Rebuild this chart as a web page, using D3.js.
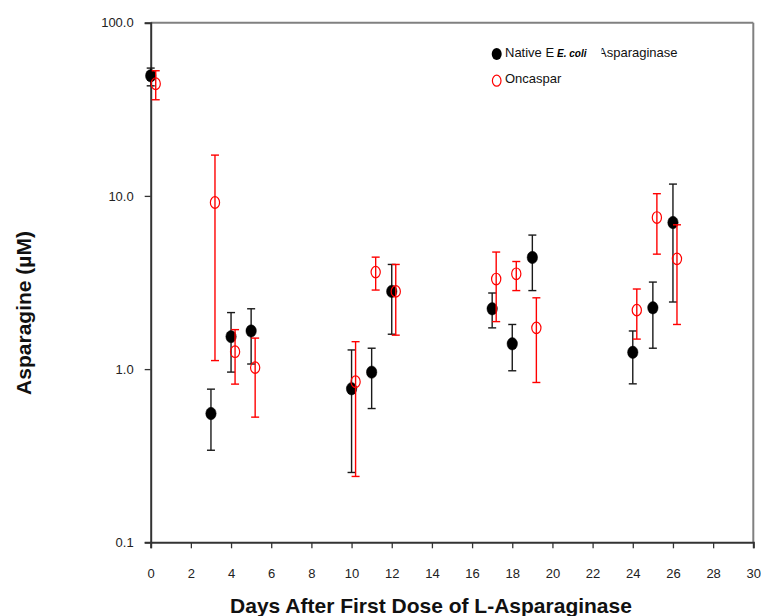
<!DOCTYPE html>
<html>
<head>
<meta charset="utf-8">
<script src="https://cdn.jsdelivr.net/npm/d3@7"></script>
<style>
  html, body { margin: 0; padding: 0; background: #fff; }
  svg { display: block; font-family: Arial, "Liberation Sans", sans-serif; }
</style>
</head>
<body>
<svg id="chart" width="761" height="616"></svg>
<script>
// Native E. coli Asparaginase
const nativeDays  = [0, 3, 4, 5, 10, 11, 12, 17, 18, 19, 24, 25, 26];
const nativeMean  = [49.4, 0.554, 1.54, 1.66, 0.77, 0.96, 2.81, 2.23, 1.40, 4.41, 1.25, 2.26, 7.02];
const nativeUpper = [54.7, 0.766, 2.12, 2.23, 1.29, 1.32, 4.02, 2.75, 1.81, 5.94, 1.66, 3.18, 11.7];
const nativeLower = [43.2, 0.34, 0.961, 1.07, 0.253, 0.592, 1.59, 1.73, 0.978, 2.84, 0.822, 1.32, 2.44];

// Oncaspar
const oncDays  = [0.25, 3.2, 4.2, 5.2, 10.2, 11.2, 12.2, 17.2, 18.2, 19.2, 24.2, 25.2, 26.2];
const oncMean  = [44.4, 9.16, 1.26, 1.02, 0.845, 3.63, 2.81, 3.31, 3.55, 1.73, 2.19, 7.50, 4.33];
const oncUpper = [52.8, 17.2, 1.69, 1.51, 1.44, 4.43, 4.02, 4.74, 4.18, 2.58, 2.90, 10.3, 6.81];
const oncLower = [35.9, 1.12, 0.819, 0.528, 0.240, 2.86, 1.57, 1.88, 2.84, 0.837, 1.49, 4.61, 1.81];

const yTicks = [0.1, 1, 10, 100];
const xTicks = d3.range(0, 31, 2);

const svg = d3.select("#chart");
const pLeft = 150.7, pRight = 753.3, pTop = 22.7, pBottom = 542.3;

const x = d3.scaleLinear().domain([0, 30]).range([pLeft, pRight]);
const y = d3.scaleLog().domain([0.1, 100]).range([pBottom, pTop]);

// frame top & right
svg.append("line").attr("x1", pLeft).attr("x2", pRight).attr("y1", pTop).attr("y2", pTop)
  .attr("stroke", "#808080").attr("stroke-width", 2);
svg.append("line").attr("x1", pRight).attr("x2", pRight).attr("y1", pTop).attr("y2", pBottom)
  .attr("stroke", "#808080").attr("stroke-width", 2);

// y axis
const yAxis = svg.append("g").attr("transform", `translate(${pLeft},0)`)
  .call(d3.axisLeft(y).tickValues(yTicks).tickFormat(d3.format(".1f")).tickSize(6).tickPadding(11));
yAxis.select(".domain").attr("stroke", "#333").attr("stroke-width", 2);
yAxis.selectAll(".tick line").attr("stroke", "#333").attr("stroke-width", 1.3);
yAxis.selectAll(".tick text").attr("font-size", 13).attr("fill", "#222")
  .attr("font-family", "Arial, 'Liberation Sans', sans-serif");

// x axis
const xAxis = svg.append("g").attr("transform", `translate(0,${pBottom})`)
  .call(d3.axisBottom(x).tickValues(xTicks).tickSize(6).tickPadding(20));
xAxis.select(".domain").attr("stroke", "#333").attr("stroke-width", 2);
xAxis.selectAll(".tick line").attr("stroke", "#333").attr("stroke-width", 1.3);
xAxis.selectAll(".tick text").attr("font-size", 13).attr("fill", "#222")
  .attr("font-family", "Arial, 'Liberation Sans', sans-serif");

// titles
svg.append("text").attr("x", 431).attr("y", 613)
  .attr("text-anchor", "middle").attr("font-size", 21).attr("font-weight", "bold").attr("fill", "#111")
  .text("Days After First Dose of L-Asparaginase");
svg.append("text").attr("transform", "translate(31,313) rotate(-90)")
  .attr("text-anchor", "middle").attr("font-size", 21).attr("font-weight", "bold").attr("fill", "#111")
  .text("Asparagine (µM)");

const capW = 4;
function drawSeries(days, mean, upper, lower, color, filled) {
  const g = svg.append("g");
  const idx = d3.range(days.length);
  g.selectAll("line.bar").data(idx).enter().append("line")
    .attr("x1", i => x(days[i])).attr("x2", i => x(days[i]))
    .attr("y1", i => y(upper[i])).attr("y2", i => y(lower[i]))
    .attr("stroke", color).attr("stroke-width", 1.4);
  g.selectAll("line.capt").data(idx).enter().append("line")
    .attr("x1", i => x(days[i]) - capW).attr("x2", i => x(days[i]) + capW)
    .attr("y1", i => y(upper[i])).attr("y2", i => y(upper[i]))
    .attr("stroke", color).attr("stroke-width", 1.4);
  g.selectAll("line.capb").data(idx).enter().append("line")
    .attr("x1", i => x(days[i]) - capW).attr("x2", i => x(days[i]) + capW)
    .attr("y1", i => y(lower[i])).attr("y2", i => y(lower[i]))
    .attr("stroke", color).attr("stroke-width", 1.4);
  g.selectAll("ellipse").data(idx).enter().append("ellipse")
    .attr("cx", i => x(days[i])).attr("cy", i => y(mean[i]))
    .attr("rx", filled ? 5.2 : 4.6).attr("ry", filled ? 6.2 : 5.8)
    .attr("fill", filled ? "#000" : "none")
    .attr("stroke", filled ? "#000" : color).attr("stroke-width", filled ? 0.5 : 1.2);
}
drawSeries(nativeDays, nativeMean, nativeUpper, nativeLower, "#1a1a1a", true);
drawSeries(oncDays, oncMean, oncUpper, oncLower, "#ff0000", false);

// legend
const lg = svg.append("g");
lg.append("ellipse").attr("cx", 496.7).attr("cy", 54).attr("rx", 5).attr("ry", 6).attr("fill", "#000");
lg.append("ellipse").attr("cx", 496.7).attr("cy", 80.7).attr("rx", 4.3).attr("ry", 5.5)
  .attr("fill", "none").attr("stroke", "#ff0000").attr("stroke-width", 1.2);
lg.append("text").attr("x", 505).attr("y", 57).attr("font-size", 13).attr("fill", "#111").text("Native E");
lg.append("text").attr("x", 598).attr("y", 57).attr("font-size", 13).attr("fill", "#111").text("Asparaginase");
lg.append("rect").attr("x", 589).attr("y", 40).attr("width", 12.5).attr("height", 22).attr("fill", "#fff");
lg.append("text").attr("x", 557).attr("y", 57).attr("font-size", 10).attr("font-weight", "bold")
  .attr("font-style", "italic").attr("fill", "#000").text("E. coli");
lg.append("text").attr("x", 505).attr("y", 83).attr("font-size", 13).attr("fill", "#111").text("Oncaspar");
</script>
</body>
</html>
